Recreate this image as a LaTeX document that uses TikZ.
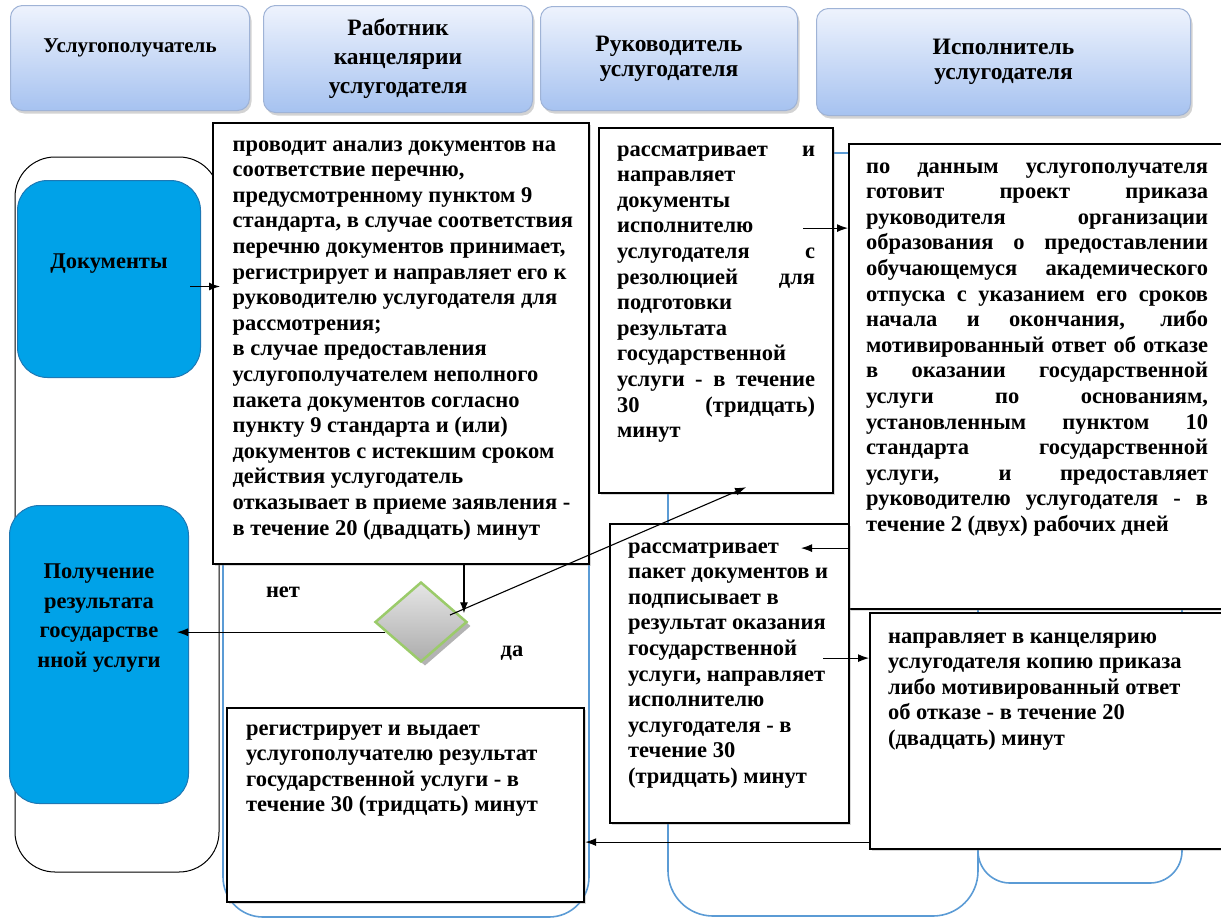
\documentclass[tikz,border=0pt]{standalone}
\usepackage{fontspec}
\setmainfont{Liberation Serif}
\usetikzlibrary{arrows.meta,shapes.geometric,shadows}

\definecolor{headtop}{HTML}{EEF3FD}
\definecolor{headbot}{HTML}{A6C2F0}
\definecolor{headline}{HTML}{9FB3D6}
\definecolor{docblue}{HTML}{00A2E8}
\definecolor{docline}{HTML}{1E78B4}
\definecolor{laneblue}{HTML}{5B9BD5}
\definecolor{diagreen}{HTML}{9BCB6A}

\newcommand{\celltext}[3]{\parbox[c][#2][t]{#1}{\begin{tabular}[t]{@{}l@{}}#3\end{tabular}}}
\newcommand{\celltextc}[3]{\parbox[c][#2][t]{#1}{\centering\begin{tabular}[t]{@{}c@{}}#3\end{tabular}}}
\newcommand{\fillline}[1]{\makebox[\linewidth][s]{#1}}

\begin{document}
\begin{tikzpicture}[
            x = 1pt, y = -1pt, % one unit per pixel, y going down
            > = {Latex[length=11pt, width=8pt]}, % arrow head style
            font = \bfseries\fontsize{22.5}{25.6}\selectfont,
            head/.style = {draw=headline, line width=1pt, rounded corners=12pt,
                top color=headtop, bottom color=headbot, align=center,
                anchor=north west, inner sep=0pt,
                font=\bfseries\fontsize{23.5}{25}\selectfont,
                drop shadow={shadow xshift=2pt, shadow yshift=-3pt, opacity=0.35}},
            doc/.style = {draw=docline, line width=1pt, fill=docblue,
                rounded corners=30pt, anchor=north west, inner xsep=0pt},
            box/.style = {draw, line width=2.2pt, fill=white, anchor=north west,
                drop shadow={shadow xshift=2pt, shadow yshift=-2pt, opacity=0.3}},
            decision/.style = {diamond, draw=diagreen, line width=2.5pt,
                top color=gray!20, bottom color=gray!65, minimum width=92pt,
                minimum height=80pt, inner sep=0pt,
                drop shadow={shadow xshift=4pt, shadow yshift=-4pt, opacity=0.6}},
            lane/.style = {draw=laneblue, line width=1.6pt},
            arr/.style = {->, line width=1.1pt} % connector
        ]

	\useasboundingbox (0,0) rectangle (1221,919);
	\clip (0,0) rectangle (1221,919);

	% lanes
	\draw[line width=1pt, rounded corners=40pt] (15,157) rectangle (219,872);
	\draw[lane, rounded corners=40pt] (223,150) rectangle (589,917);
	\draw[lane, rounded corners=45pt] (668,153) rectangle (978,916);
	\draw[lane, rounded corners=32pt] (978,153) rectangle (1182,883);

	% headers
	\node[head, minimum width=239pt, minimum height=105pt,
	      font=\bfseries\fontsize{21}{25.6}\selectfont] (h1) at (10,5) {Услугополучатель\\\mbox{}};
	\node[head, minimum width=269pt, minimum height=107pt,
	      font=\bfseries\fontsize{23.5}{29}\selectfont] (h2) at (263,5) {Работник\\канцелярии\\услугодателя};
	\node[head, minimum width=257pt, minimum height=104pt] (h3) at (540,6) {Руководитель\\услугодателя};
	\node[head, minimum width=374pt, minimum height=107pt] (h4) at (816,8) {Исполнитель\\услугодателя};

	% client
	\node[doc, inner ysep=70pt] (docs) at (17,180) {\celltextc{183pt}{57pt}{Документы}};
	\node[doc, inner ysep=52pt, font=\bfseries\fontsize{22.5}{29.7}\selectfont] (res) at (9,505)
	    {\celltextc{179pt}{194pt}{Получение\\результата\\государстве\\нной услуги}};

	% steps
	\node[box, inner xsep=19.5pt, inner ysep=10pt] (box1) at (212,122) {\celltext{337pt}{421pt}{%
	    проводит анализ документов на\\
	    соответствие перечню,\\
	    предусмотренному пунктом 9\\
	    стандарта, в случае соответствия\\
	    перечню документов принимает,\\
	    регистрирует и направляет его к\\
	    руководителю услугодателя для\\
	    рассмотрения;\\
	    в случае предоставления\\
	    услугополучателем неполного\\
	    пакета документов согласно\\
	    пункту 9 стандарта и (или)\\
	    документов с истекшим сроком\\
	    действия услугодатель\\
	    отказывает в приеме заявления -\\
	    в течение 20 (двадцать) минут}};
	\node[box, inner xsep=18pt, inner ysep=10pt] (box2) at (598,127) {\celltext{198pt}{345pt}{%
	    \fillline{рассматривает и}\\
	    направляет\\
	    документы\\
	    исполнителю\\
	    \fillline{услугодателя с}\\
	    \fillline{резолюцией для}\\
	    подготовки\\
	    результата\\
	    государственной\\
	    \fillline{услуги - в течение}\\
	    \fillline{30 (тридцать)}\\
	    минут}};
	\node[box, inner xsep=17pt, inner ysep=11pt] (box3) at (848,143) {\celltext{342pt}{443pt}{%
	    \fillline{по данным услугополучателя}\\
	    \fillline{готовит проект приказа}\\
	    \fillline{руководителя организации}\\
	    \fillline{образования о предоставлении}\\
	    \fillline{обучающемуся академического}\\
	    \fillline{отпуска с указанием его сроков}\\
	    \fillline{начала и окончания, либо}\\
	    \fillline{мотивированный ответ об отказе}\\
	    \fillline{в оказании государственной}\\
	    \fillline{услуги по основаниям,}\\
	    \fillline{установленным пунктом 10}\\
	    \fillline{стандарта государственной}\\
	    \fillline{услуги, и предоставляет}\\
	    \fillline{руководителю услугодателя - в}\\
	    течение 2 (двух) рабочих дней}};
	\node[box, inner xsep=18pt, inner ysep=11pt] (box4) at (609,523) {\celltext{203pt}{277pt}{%
	    рассматривает\\
	    пакет документов и\\
	    подписывает в\\
	    результат оказания\\
	    государственной\\
	    услуги, направляет\\
	    исполнителю\\
	    услугодателя - в\\
	    течение 30\\
	    (тридцать) минут}};
	\node[box, inner xsep=18pt, inner ysep=12pt] (box5) at (869,612) {\celltext{330pt}{212pt}{%
	    направляет в канцелярию\\
	    услугодателя копию приказа\\
	    либо мотивированный ответ\\
	    об отказе - в течение 20\\
	    (двадцать) минут}};
	\node[box, inner xsep=19pt, inner ysep=9pt] (box6) at (226,707) {\celltext{319pt}{176pt}{%
	    регистрирует и выдает\\
	    услугополучателю результат\\
	    государственной услуги - в\\
	    течение 30 (тридцать) минут}};

	% decision
	\node[decision] (dia) at (421,622) {};
	\node (no) at (283,592) {нет};
	\node (yes) at (512,653) {да};

	% connectors
	\draw[arr, shorten >=-8pt] ([shift={(-11pt,-7.5pt)}]docs.east) -- ([yshift=-7.5pt]docs.east -| box1.west);
	\draw[arr, shorten >=5pt] (box1.south -| dia.5) -- (dia.5);
	\draw[arr] ([shift={(29pt,7pt)}]dia.center) -- ([shift={(30pt,7pt)}]box2.south);
	\draw[arr, shorten >=-12pt] (dia.196) -- (dia.196 -| res.east);
	\draw[arr] ([shift={(-31pt,82.5pt)}]box2.east) -- ([yshift=82.5pt]box2.east -| box3.west);
	\draw[arr] ([yshift=-171.5pt]box3.west) -- ++(-47,0);
	\draw[arr] ([shift={(-27pt,15.5pt)}]box4.east) -- ([yshift=73pt]box5.west);
	\draw[arr] ([yshift=-111pt]box5.west) -- ([yshift=-37pt]box6.east);

\end{tikzpicture}
\end{document}
